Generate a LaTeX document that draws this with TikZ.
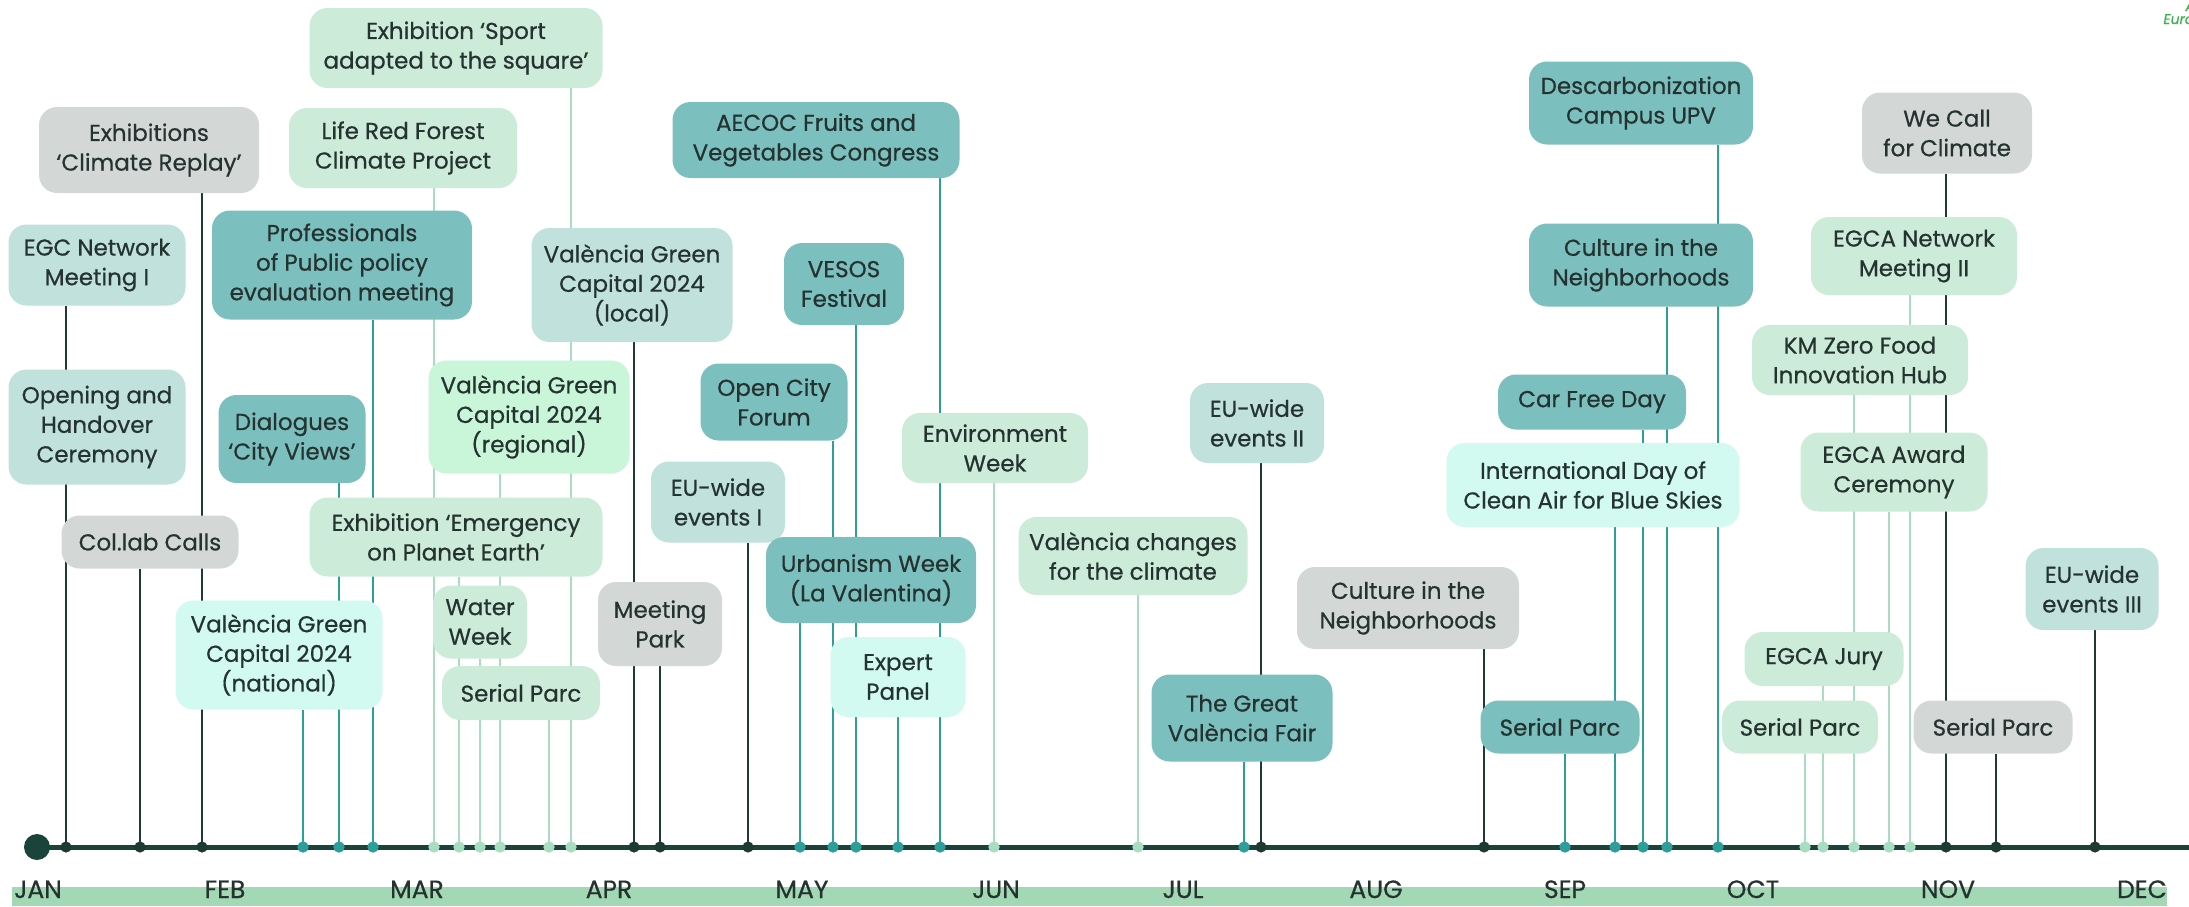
\documentclass[tikz,border=0pt]{standalone}
\usepackage{fontspec}
\setmainfont{Poppins}[FakeBold=0.6]
\usetikzlibrary{backgrounds}

\newlength{\pxu}\setlength{\pxu}{0.5pt}

\definecolor{boxteal}{HTML}{7CBFBF}
\definecolor{boxsoft}{HTML}{C0E1DC}
\definecolor{boxgray}{HTML}{D3D8D7}
\definecolor{boxgreen}{HTML}{CDEBD9}
\definecolor{boxmint}{HTML}{C9F5D9}
\definecolor{boxcyan}{HTML}{D2FAF1}
\definecolor{linedark}{HTML}{1E3A33}
\definecolor{lineteal}{HTML}{2E9E9B}
\definecolor{linegreen}{HTML}{A9DDC2}
\definecolor{axisdark}{HTML}{1A4339}
\definecolor{monthbar}{HTML}{A2D9B4}
\definecolor{inkdark}{HTML}{253330}
\definecolor{cornergreen}{HTML}{3CB44B}

\begin{document}
\begin{tikzpicture}[
    x=0.5pt, y=-0.5pt,
    font=\fontsize{11.5}{14.8}\selectfont,
    ev/.style={
        rounded corners=9pt,
        align=center,
        inner sep=0pt,
        text=inkdark
    },
    wh/.style 2 args={minimum width=#1\pxu, minimum height=#2\pxu},
    evteal/.style={ev, fill=boxteal},
    evsoft/.style={ev, fill=boxsoft},
    evgray/.style={ev, fill=boxgray},
    evgreen/.style={ev, fill=boxgreen},
    evmint/.style={ev, fill=boxmint},
    evcyan/.style={ev, fill=boxcyan},
    lkdark/.style={draw=linedark, fill=linedark, line width=1.1pt},
    lkteal/.style={draw=lineteal, fill=lineteal, line width=1.2pt},
    lkgreen/.style={draw=linegreen, fill=linegreen, line width=1.2pt},
    month/.style={anchor=base, inner sep=0pt, text=inkdark, font=\fontsize{12.5}{12.5}\selectfont}
]
\useasboundingbox (0,0) rectangle (2189,906);

% January -- April
\node[evgreen, wh={293}{80}] (sport) at (456,48) {Exhibition ‘Sport\\adapted to the square’};
\node[evgray, wh={220}{86}] (replay) at (149,150) {Exhibitions\\‘Climate Replay’};
\node[evgreen, wh={228}{80}] (redforest) at (403,148) {Life Red Forest\\Climate Project};
\node[evsoft, wh={177}{81}] (egc) at (97,265) {EGC Network\\Meeting I};
\node[evteal, wh={260}{109}] (profs) at (342,265) {Professionals\\of Public policy\\evaluation meeting};
\node[evsoft, wh={201}{114}] (local) at (632,285) {València Green\\Capital 2024\\(local)};
\node[evsoft, wh={177}{115}] (opening) at (97,427) {Opening and\\Handover\\Ceremony};
\node[evteal, wh={147}{88}] (dialogues) at (292,439) {Dialogues\\‘City Views’};
\node[evmint, wh={201}{113}] (regional) at (529,417) {València Green\\Capital 2024\\(regional)};
\node[evgray, wh={177}{53}] (collab) at (150,542) {Col.lab Calls};
\node[evgreen, wh={293}{79}] (emergency) at (456,537) {Exhibition ‘Emergency\\on Planet Earth’};
\node[evgreen, wh={94}{73}] (water) at (480,622) {Water\\Week};
\node[evgreen, wh={158}{54}] (serialmar) at (521,693) {Serial Parc};
\node[evcyan, wh={207}{109}] (national) at (279,655) {València Green\\Capital 2024\\(national)};
\node[evgray, wh={124}{84}] (meetpark) at (660,624) {Meeting\\Park};

% May -- August
\node[evteal, wh={287}{76}] (aecoc) at (816,140) {AECOC Fruits and\\Vegetables Congress};
\node[evteal, wh={120}{82}] (vesos) at (844,284) {VESOS\\Festival};
\node[evteal, wh={147}{77}] (opencity) at (774,402) {Open City\\Forum};
\node[evgreen, wh={186}{70}] (envweek) at (995,448) {Environment\\Week};
\node[evsoft, wh={134}{81}] (euone) at (718,502) {EU-wide\\events I};
\node[evteal, wh={210}{86}] (urbanism) at (871,580) {Urbanism Week\\(La Valentina)};
\node[evcyan, wh={135}{80}] (expert) at (898,677) {Expert\\Panel};
\node[evgreen, wh={229}{78}] (vlcchanges) at (1133,556) {València changes\\for the climate};
\node[evteal, wh={181}{87}] (greatfair) at (1242,718) {The Great\\València Fair};
\node[evsoft, wh={134}{80}] (eutwo) at (1257,423) {EU-wide\\events II};
\node[evgray, wh={222}{82}] (culturegray) at (1408,608) {Culture in the\\Neighborhoods};

% September -- December
\node[evteal, wh={224}{83}] (decarb) at (1641,103) {Descarbonization\\Campus UPV};
\node[evteal, wh={224}{83}] (cultureteal) at (1641,265) {Culture in the\\Neighborhoods};
\node[evteal, wh={188}{55}] (carfree) at (1592,402) {Car Free Day};
\node[evcyan, wh={293}{84}] (cleanair) at (1593,485) {International Day of\\Clean Air for Blue Skies};
\node[evteal, wh={159}{53}] (serialsep) at (1560,727) {Serial Parc};
\node[evgray, wh={170}{81}] (wecall) at (1947,133) {We Call\\for Climate};
\node[evgreen, wh={206}{78}] (egcatwo) at (1914,256) {EGCA Network\\Meeting II};
\node[evgreen, wh={216}{70}] (kmzero) at (1860,360) {KM Zero Food\\Innovation Hub};
\node[evgreen, wh={187}{79}] (award) at (1894,472) {EGCA Award\\Ceremony};
\node[evgreen, wh={159}{54}] (jury) at (1824,659) {EGCA Jury};
\node[evgreen, wh={156}{53}] (serialoct) at (1800,727) {Serial Parc};
\node[evgray, wh={159}{53}] (serialnov) at (1993,727) {Serial Parc};
\node[evsoft, wh={133}{82}] (euthree) at (2092,589) {EU-wide\\events III};

% timeline start and end
\node[circle, fill=axisdark, inner sep=0pt, minimum size=13pt] (start) at (37,847) {};
\coordinate (axisend) at (2189,847);

% connectors run behind the boxes
\begin{scope}[on background layer]
\foreach \nm/\x/\ln in {egc/66/lkdark, collab/140/lkdark, replay/202/lkdark,
    national/303/lkteal, dialogues/339/lkteal, profs/373/lkteal,
    redforest/434/lkgreen, emergency/459/lkgreen, water/480/lkgreen,
    regional/500/lkgreen, serialmar/549/lkgreen, sport/571/lkgreen,
    local/634/lkdark, meetpark/660/lkdark, euone/748/lkdark,
    urbanism/800/lkteal, opencity/833/lkteal, vesos/856/lkteal,
    expert/898/lkteal, aecoc/940/lkteal, envweek/994/lkgreen,
    vlcchanges/1138/lkgreen, greatfair/1244/lkteal, eutwo/1261/lkdark,
    culturegray/1484/lkdark, serialsep/1565/lkteal, cleanair/1615/lkteal,
    carfree/1643/lkteal, cultureteal/1667/lkteal, decarb/1718/lkteal,
    serialoct/1805/lkgreen, jury/1823/lkgreen, kmzero/1854/lkgreen,
    award/1889/lkgreen, egcatwo/1910/lkgreen, wecall/1946/lkdark,
    serialnov/1996/lkdark, euthree/2095/lkdark}{
    \coordinate (d\nm) at (\x,847);
    \draw[\ln] (\nm.south -| d\nm) -- (d\nm);
}
\draw[axisdark, line width=2.5pt] (start.center) -- (axisend);
\foreach \nm/\ln in {egc/lkdark, collab/lkdark, replay/lkdark,
    national/lkteal, dialogues/lkteal, profs/lkteal,
    redforest/lkgreen, emergency/lkgreen, water/lkgreen,
    regional/lkgreen, serialmar/lkgreen, sport/lkgreen,
    local/lkdark, meetpark/lkdark, euone/lkdark,
    urbanism/lkteal, opencity/lkteal, vesos/lkteal,
    expert/lkteal, aecoc/lkteal, envweek/lkgreen,
    vlcchanges/lkgreen, greatfair/lkteal, eutwo/lkdark,
    culturegray/lkdark, serialsep/lkteal, cleanair/lkteal,
    carfree/lkteal, cultureteal/lkteal, decarb/lkteal,
    serialoct/lkgreen, jury/lkgreen, kmzero/lkgreen,
    award/lkgreen, egcatwo/lkgreen, wecall/lkdark,
    serialnov/lkdark, euthree/lkdark}{
    \fill[\ln] (d\nm) circle (2.2pt);
}
\end{scope}

% month strip
\fill[monthbar] (12,887) rectangle (2167,906);
\foreach \m/\x in {JAN/38, FEB/225, MAR/417, APR/609, MAY/802, JUN/996,
    JUL/1183, AUG/1376, SEP/1565, OCT/1753, NOV/1948, DEC/2142}
    \node[month] (m\m) at (\x,898) {\m};

% cropped corner note
\node[anchor=base west, inner sep=0pt, text=cornergreen, font=\fontsize{7}{7}\selectfont\itshape] (noteA) at (2185,11) {A};
\node[anchor=base west, inner sep=0pt, text=cornergreen, font=\fontsize{7}{7}\selectfont\itshape] (noteB) at (2163,24) {Euro};

\end{tikzpicture}
\end{document}
